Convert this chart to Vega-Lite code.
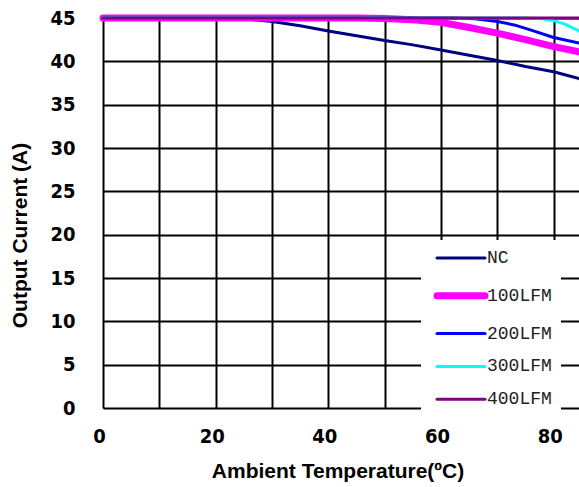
{
  "$schema": "https://vega.github.io/schema/vega-lite/v6.json",
  "autosize": {"type": "none"},
  "padding": {"left": 103, "top": 18, "right": 0, "bottom": 79},
  "width": 476,
  "height": 390,
  "background": "white",
  "config": {"view": {"stroke": null}},
  "data": {"values": [
    {"series": "NC", "temp": 0, "current": 45},
    {"series": "NC", "temp": 20, "current": 45},
    {"series": "NC", "temp": 25, "current": 44.9},
    {"series": "NC", "temp": 30, "current": 44.6},
    {"series": "NC", "temp": 35, "current": 44.1},
    {"series": "NC", "temp": 40, "current": 43.5},
    {"series": "NC", "temp": 45, "current": 42.95},
    {"series": "NC", "temp": 50, "current": 42.4},
    {"series": "NC", "temp": 55, "current": 41.9},
    {"series": "NC", "temp": 60, "current": 41.3},
    {"series": "NC", "temp": 65, "current": 40.7},
    {"series": "NC", "temp": 70, "current": 40.1},
    {"series": "NC", "temp": 75, "current": 39.4},
    {"series": "NC", "temp": 80, "current": 38.8},
    {"series": "NC", "temp": 84.5, "current": 38.0},
    {"series": "100LFM", "temp": 0, "current": 45},
    {"series": "100LFM", "temp": 45, "current": 45},
    {"series": "100LFM", "temp": 50, "current": 44.95},
    {"series": "100LFM", "temp": 55, "current": 44.8},
    {"series": "100LFM", "temp": 60, "current": 44.5},
    {"series": "100LFM", "temp": 65, "current": 43.9},
    {"series": "100LFM", "temp": 70, "current": 43.25},
    {"series": "100LFM", "temp": 75, "current": 42.5},
    {"series": "100LFM", "temp": 80, "current": 41.7},
    {"series": "100LFM", "temp": 84.5, "current": 41.1},
    {"series": "200LFM", "temp": 0, "current": 45},
    {"series": "200LFM", "temp": 62, "current": 45},
    {"series": "200LFM", "temp": 66, "current": 44.9},
    {"series": "200LFM", "temp": 70, "current": 44.6},
    {"series": "200LFM", "temp": 73, "current": 44.2},
    {"series": "200LFM", "temp": 76, "current": 43.6},
    {"series": "200LFM", "temp": 80, "current": 42.75},
    {"series": "200LFM", "temp": 84.5, "current": 42.1},
    {"series": "300LFM", "temp": 0, "current": 45},
    {"series": "300LFM", "temp": 75, "current": 45},
    {"series": "300LFM", "temp": 78, "current": 44.9},
    {"series": "300LFM", "temp": 80, "current": 44.7},
    {"series": "300LFM", "temp": 82, "current": 44.3},
    {"series": "300LFM", "temp": 84.5, "current": 43.5},
    {"series": "400LFM", "temp": 0, "current": 45},
    {"series": "400LFM", "temp": 84.5, "current": 45}
  ]},
  "mark": {"type": "line", "clip": false, "strokeCap": "round", "strokeJoin": "round"},
  "encoding": {
    "x": {
      "field": "temp", "type": "quantitative",
      "scale": {"domain": [0, 84.5], "nice": false, "zero": false},
      "axis": {
        "values": [0, 10, 20, 30, 40, 50, 60, 70, 80],
        "labelExpr": "datum.value % 20 == 0 ? datum.label : ''",
        "title": "Ambient Temperature(ºC)",
        "titleFont": "Liberation Sans", "titleFontSize": 21, "titleFontWeight": "bold", "titleColor": "black",
        "titleX": 234.5, "titleY": 63, "titleBaseline": "middle", "titleAlign": "center",
        "labelFont": "DejaVu Sans Condensed", "labelFontSize": 20, "labelFontWeight": "bold", "labelColor": "black",
        "labelPadding": 18, "labelOffset": -4, "labelOverlap": false, "labelFlush": false, "labelAlign": "center",
        "ticks": false, "domain": false,
        "grid": true, "gridColor": "black", "gridWidth": 2, "gridOpacity": 1
      }
    },
    "y": {
      "field": "current", "type": "quantitative",
      "scale": {"domain": [0, 45], "nice": false},
      "axis": {
        "values": [0, 5, 10, 15, 20, 25, 30, 35, 40, 45],
        "title": "Output Current (A)",
        "titleFont": "Liberation Sans", "titleFontSize": 21, "titleFontWeight": "bold", "titleColor": "black",
        "titleX": -83, "titleY": 217, "titleAngle": -90, "titleBaseline": "middle", "titleAlign": "center",
        "labelFont": "DejaVu Sans Condensed", "labelFontSize": 20, "labelFontWeight": "bold", "labelColor": "black",
        "labelPadding": 28, "labelOverlap": false, "labelFlush": false,
        "ticks": false, "domain": false,
        "grid": true, "gridColor": "black", "gridWidth": 2, "gridOpacity": 1
      }
    },
    "color": {
      "field": "series", "type": "nominal",
      "scale": {"domain": ["NC", "100LFM", "200LFM", "300LFM", "400LFM"],
                "range": ["#000080", "#FF00FF", "#0000FF", "#00FFFF", "#800080"]},
      "legend": {
        "title": null, "orient": "none", "legendX": 318, "legendY": 222,
        "fillColor": "white", "padding": 9, "symbolOffset": 8,
        "symbolType": "M-1,0H3.8", "symbolSize": 400, "symbolStrokeWidth": 3,
        "labelFont": "Liberation Mono", "labelFontSize": 18, "labelColor": "#222",
        "labelOffset": 31, "rowPadding": 14.8,
        "encode": {"symbols": {"update": {
          "strokeWidth": {"signal": "datum.value === '100LFM' ? 7 : 3"},
          "strokeCap": {"value": "round"}
        }}}
      }
    },
    "strokeWidth": {
      "condition": {"test": "datum.series === '100LFM'", "value": 7},
      "value": 3
    }
  }
}
